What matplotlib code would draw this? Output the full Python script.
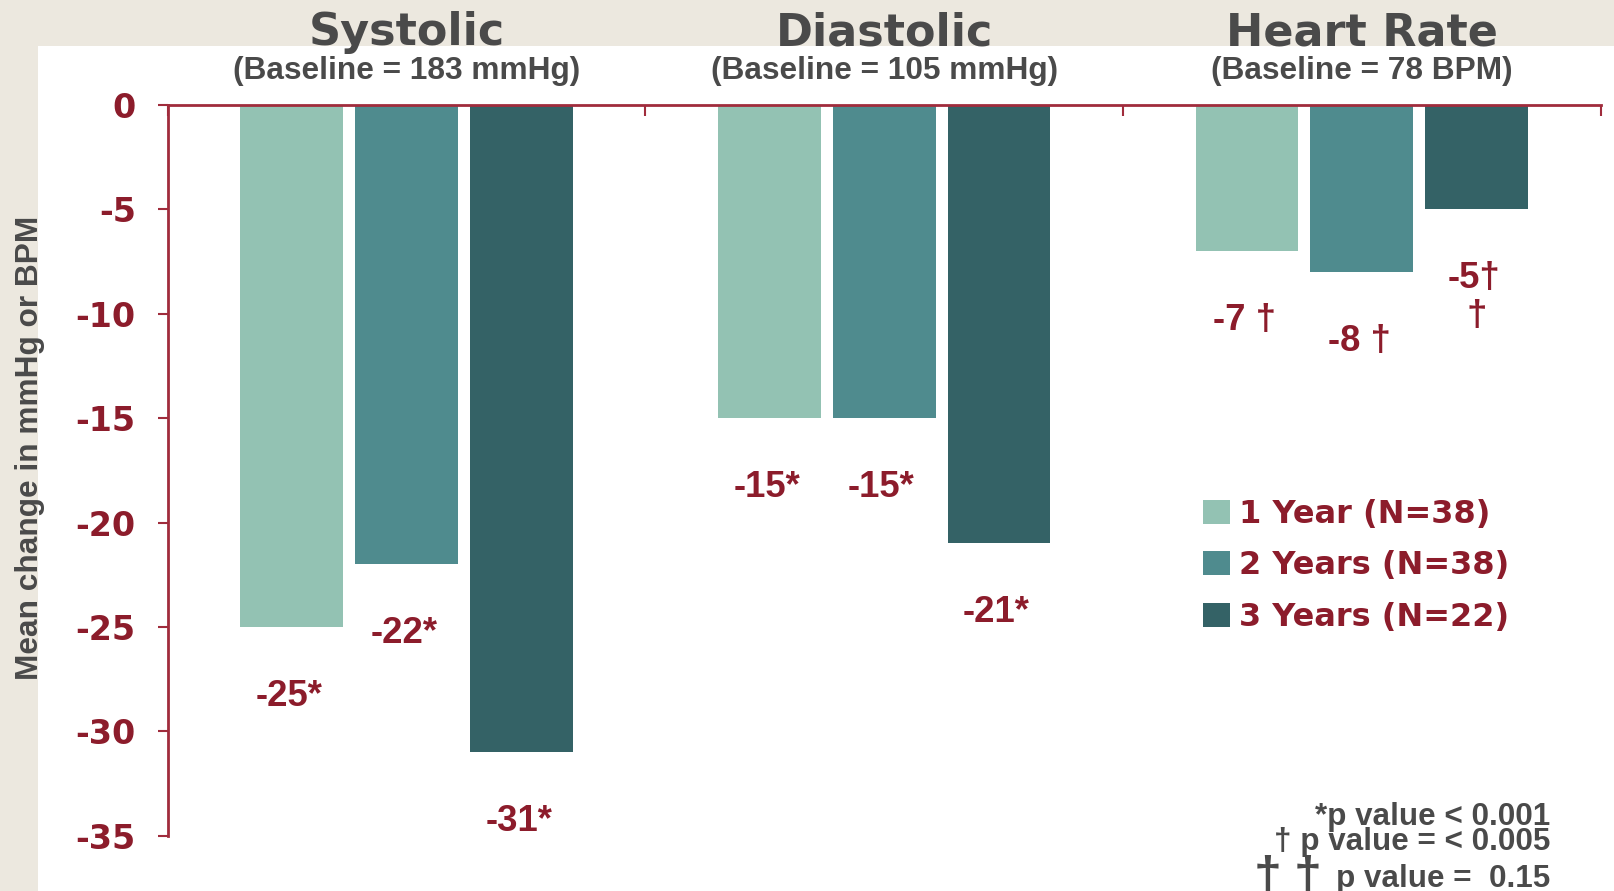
import matplotlib
matplotlib.use("Agg")
import matplotlib.pyplot as plt
import matplotlib.transforms as mtransforms
from matplotlib.patches import Rectangle
import numpy as np

plt.rcParams["axes.unicode_minus"] = False

# ---- data ----
groups = ["Systolic", "Diastolic", "Heart Rate"]
baselines = ["(Baseline = 183 mmHg)", "(Baseline = 105 mmHg)", "(Baseline = 78 BPM)"]
series = ["1 Year (N=38)", "2 Years (N=38)", "3 Years (N=22)"]
year1 = [-25, -15, -7]
year2 = [-22, -15, -8]
year3 = [-31, -21, -5]
marks1 = ["*", "*", "†"]
marks2 = ["*", "*", "†"]
marks3 = ["*", "*", "††"]
yticks = [0, -5, -10, -15, -20, -25, -30, -35]
ytick_labels = ["0", "-5", "-10", "-15", "-20", "-25", "-30", "-35"]
ylabel = "Mean change in mmHg or BPM"
footnote1 = "*p value < 0.001"
footnote2 = "† p value = < 0.005"
footnote3 = "p value =  0.15"

# ---- style ----
W, H = 1614, 891
BEIGE = "#ece8df"
RED = "#8c1c2b"
AXIS = "#a02c3c"
GRAY = "#4a4a4a"
COLORS = ["#93c2b3", "#4f8b8e", "#346266"]
ARIAL = "Liberation Sans"
DEJAVU = "DejaVu Sans"

fig = plt.figure(figsize=(W / 100, H / 100), dpi=100, facecolor=BEIGE)
fig.patches.append(Rectangle((38 / W, 0), 1, 1 - 46 / H, transform=fig.transFigure,
                             facecolor="white", edgecolor="none", zorder=-5))

ax = fig.add_axes([167.8 / W, 1 - 835.8 / H, (1600.6 - 167.8) / W, (835.8 - 105) / H])
ax.set_facecolor("none")
ax.set_zorder(2)

x = np.arange(len(groups))
width = 0.2155
step = 0.2403
label_gap = 3.15  # data units between bar end and label centre

for k, (vals, marks, color, name) in enumerate(
        zip([year1, year2, year3], [marks1, marks2, marks3], COLORS, series)):
    xs = x + (k - 1) * step
    ax.bar(xs, vals, width, color=color, label=name, zorder=2)
    for xi, v, m in zip(xs, vals, marks):
        if m == "*":
            txt = f"{v}*"
        elif m == "†":
            txt = f"{v} †"
        else:
            txt = f"{v}†"
        ax.annotate(txt, xy=(xi, v - label_gap), xytext=(-2, -9.4),
                    textcoords="offset points", ha="center", va="baseline",
                    family=ARIAL, fontweight="bold", fontsize=26.3, color=RED)
        if m == "††":
            ax.annotate("†", xy=(xi, v - label_gap), xytext=(0, -9.4 - 27.4),
                        textcoords="offset points", ha="center", va="baseline",
                        family=ARIAL, fontweight="bold", fontsize=26.3, color=RED)

ax.set_xlim(-0.5, 2.5)
ax.set_ylim(-35, 0)

ax.set_yticks(yticks)
ax.set_yticklabels(ytick_labels, family=DEJAVU, fontweight="bold", fontsize=24, color=RED)
ax.tick_params(axis="y", direction="out", length=7.2, width=1.5, color=AXIS, pad=15.8)

ax.xaxis.tick_top()
ax.set_xticks([-0.5, 0.5, 1.5, 2.5])
ax.tick_params(axis="x", direction="in", length=8, width=1.5, color=AXIS,
               labeltop=False, labelbottom=False)

for side in ("bottom", "right"):
    ax.spines[side].set_visible(False)
for side in ("top", "left"):
    ax.spines[side].set_color(AXIS)
    ax.spines[side].set_linewidth(2)

# group headings
tr = mtransforms.blended_transform_factory(ax.transData, fig.transFigure)
for i, (g, b) in enumerate(zip(groups, baselines)):
    ax.text(i, 1 - 45 / H, g, transform=tr, ha="center", va="baseline",
            family=DEJAVU, fontweight="bold", fontsize=32, color=GRAY)
    ax.text(i, 1 - 79 / H, b, transform=tr, ha="center", va="baseline",
            family=ARIAL, fontweight="bold", fontsize=22.8, color=GRAY)

fig.text(30 / W, 1 - 448 / H, ylabel, rotation=90, ha="center", va="center",
         family=ARIAL, fontweight="bold", fontsize=22.8, color=GRAY)

leg = ax.legend(loc="upper left", bbox_to_anchor=(1202.7 / W, 1 - 499 / H),
                bbox_transform=fig.transFigure, frameon=False,
                prop=dict(family=DEJAVU, weight="bold", size=23), labelcolor=RED,
                handlelength=0.84, handleheight=0.78, handletextpad=0.31,
                labelspacing=0.64, borderpad=0, borderaxespad=0)

# significance footnotes
fn = dict(ha="right", va="baseline", family=ARIAL, fontweight="bold", fontsize=22.6, color=GRAY)
fig.text(1550 / W, 1 - 825 / H, footnote1, **fn)
fig.text(1550 / W, 1 - 850 / H, footnote2, **fn)
fig.text(1550 / W, 1 - 887 / H, footnote3, **fn)
for dx in (1268, 1308):
    fig.text(dx / W, 1 - 891 / H, "†", ha="center", va="baseline",
             family=ARIAL, fontweight="bold", fontsize=36, color=GRAY)

fig.savefig("out.png", dpi=100, facecolor=BEIGE)
